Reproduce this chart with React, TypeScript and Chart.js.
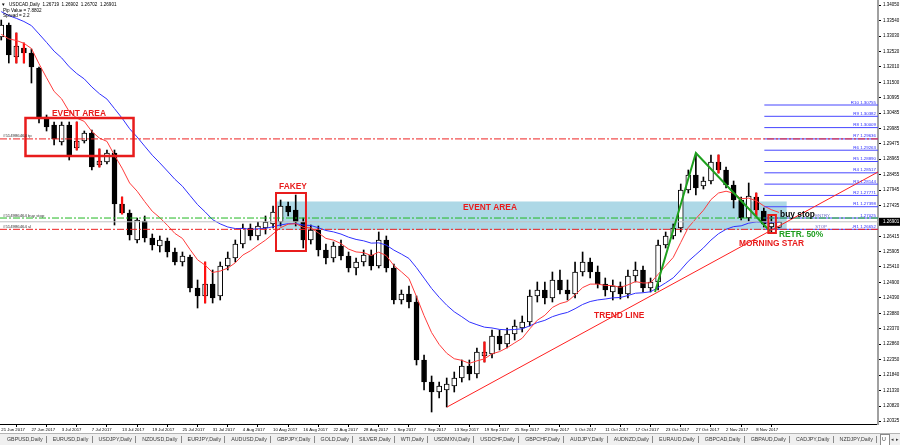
import React, { useEffect, useRef } from "react";
import { Chart, registerables } from "chart.js";
Chart.register(...registerables);

const FONT = "'Liberation Sans', Arial, sans-serif";

// ---------- data ----------
const symbolTitle = "USDCAD,Daily";
const infoLines = ["Pip Value = 7.8802", "Spread = 2.2"];

const dateLabels = [
  "21 Jun 2017", "27 Jun 2017", "3 Jul 2017", "7 Jul 2017", "13 Jul 2017", "19 Jul 2017",
  "25 Jul 2017", "31 Jul 2017", "4 Aug 2017", "10 Aug 2017", "16 Aug 2017", "22 Aug 2017",
  "28 Aug 2017", "1 Sep 2017", "7 Sep 2017", "13 Sep 2017", "19 Sep 2017", "25 Sep 2017",
  "29 Sep 2017", "5 Oct 2017", "11 Oct 2017", "17 Oct 2017", "23 Oct 2017", "27 Oct 2017",
  "2 Nov 2017", "8 Nov 2017",
];
const dateBars = [0, 4, 8, 12, 16, 20, 24, 28, 32, 36, 40, 44, 48, 52, 56, 60, 64, 68, 72, 76, 80, 84, 88, 92, 96, 100];

const priceTicks = [
  1.3405, 1.3354, 1.3303, 1.3252, 1.3201, 1.315, 1.30995, 1.30485, 1.29985, 1.29475,
  1.28965, 1.28455, 1.27945, 1.27435, 1.26415, 1.25905, 1.2541, 1.249, 1.2439, 1.2388,
  1.2337, 1.2286, 1.2235, 1.2184, 1.2133, 1.2082, 1.20325,
];

const openP = [
  1.32999, 1.33395, 1.32339, 1.32636, 1.32471, 1.31976, 1.30359, 1.30095, 1.29534, 1.30095,
  1.29336, 1.29567, 1.29831, 1.28775, 1.28874, 1.29171, 1.27488, 1.27191, 1.263, 1.26927,
  1.26366, 1.26102, 1.26267, 1.25904, 1.25574, 1.25739, 1.24716, 1.24452, 1.24848, 1.24452,
  1.25442, 1.25706, 1.26168, 1.26696, 1.26432, 1.26696, 1.26828, 1.26894, 1.27422, 1.2729,
  1.26894, 1.263, 1.2663, 1.2597, 1.25706, 1.26102, 1.25772, 1.25376, 1.25574, 1.25805,
  1.25442, 1.263, 1.25376, 1.2432, 1.24518, 1.24254, 1.2234, 1.21614, 1.21284, 1.2135,
  1.21482, 1.21746, 1.22142, 1.21878, 1.22472, 1.22538, 1.23132, 1.22868, 1.23198, 1.23396,
  1.23594, 1.24452, 1.2465, 1.24386, 1.2498, 1.2465, 1.24518, 1.25244, 1.25574, 1.25244,
  1.24848, 1.24584, 1.24782, 1.24518, 1.25112, 1.2531, 1.24716, 1.24914, 1.26135, 1.26432,
  1.26696, 1.2795, 1.28445, 1.28082, 1.28247, 1.28874, 1.2861, 1.28115, 1.2762, 1.27026,
  1.27719, 1.27257, 1.26729, 1.26719,
];
const highP = [
  1.3356, 1.33461, 1.33131, 1.32801, 1.32603, 1.32009, 1.30425, 1.30194, 1.30194, 1.30194,
  1.30194, 1.29897, 1.2993, 1.29303, 1.2927, 1.2927, 1.27719, 1.2729, 1.27026, 1.27092,
  1.26498, 1.26432, 1.26366, 1.26036, 1.25904, 1.25805, 1.2498, 1.25574, 1.2531, 1.25574,
  1.25904, 1.263, 1.26828, 1.26828, 1.26894, 1.27092, 1.27422, 1.2762, 1.27554, 1.27785,
  1.27026, 1.26795, 1.26762, 1.26168, 1.26234, 1.263, 1.25904, 1.25706, 1.2597, 1.2597,
  1.26564, 1.26432, 1.25508, 1.2465, 1.24782, 1.24452, 1.22505, 1.21812, 1.21614, 1.21746,
  1.21944, 1.2234, 1.2234, 1.22736, 1.22934, 1.2333, 1.2333, 1.23396, 1.2366, 1.23792,
  1.2465, 1.24914, 1.24914, 1.25244, 1.2531, 1.2498, 1.25574, 1.25904, 1.25706, 1.25442,
  1.25046, 1.2498, 1.24914, 1.2531, 1.25574, 1.25442, 1.25046, 1.263, 1.26564, 1.26828,
  1.28148, 1.2861, 1.29171, 1.28379, 1.29105, 1.29105, 1.28709, 1.28247, 1.27719, 1.28181,
  1.27851, 1.27356, 1.27125, 1.26902,
];
const lowP = [
  1.329, 1.32141, 1.32141, 1.32141, 1.31481, 1.30161, 1.29897, 1.29435, 1.29435, 1.2894,
  1.2927, 1.29501, 1.2861, 1.28709, 1.28808, 1.26795, 1.27158, 1.263, 1.26201, 1.26234,
  1.2597, 1.25904, 1.25739, 1.25475, 1.25442, 1.24584, 1.24056, 1.24221, 1.24221, 1.2432,
  1.2531, 1.25574, 1.26036, 1.263, 1.263, 1.26498, 1.26696, 1.26762, 1.27092, 1.26762,
  1.26036, 1.26168, 1.25772, 1.25508, 1.25574, 1.2564, 1.25244, 1.25145, 1.25442, 1.2531,
  1.25376, 1.25244, 1.24188, 1.24188, 1.24056, 1.22175, 1.2135, 1.20624, 1.21086, 1.20789,
  1.21284, 1.21614, 1.2168, 1.21746, 1.22274, 1.22406, 1.2267, 1.22736, 1.23, 1.23264,
  1.23462, 1.24254, 1.24188, 1.24254, 1.24518, 1.2432, 1.24386, 1.25112, 1.25046, 1.24716,
  1.24452, 1.2432, 1.24353, 1.24386, 1.24914, 1.24584, 1.24584, 1.2465, 1.26036, 1.26333,
  1.26564, 1.27851, 1.27785, 1.27983, 1.28148, 1.28511, 1.28016, 1.27356, 1.2696, 1.26927,
  1.27092, 1.26729, 1.26564, 1.26702,
];
const closeP = [
  1.33395, 1.32405, 1.32702, 1.32471, 1.32009, 1.30359, 1.30029, 1.29633, 1.30095, 1.29072,
  1.29567, 1.29831, 1.28709, 1.28907, 1.29171, 1.27488, 1.27191, 1.26465, 1.2696, 1.26366,
  1.26135, 1.263, 1.25904, 1.25574, 1.25772, 1.24716, 1.24452, 1.24848, 1.24386, 1.25442,
  1.25706, 1.26168, 1.26696, 1.26432, 1.26762, 1.26894, 1.27224, 1.27422, 1.27224, 1.26894,
  1.263, 1.2663, 1.2597, 1.25706, 1.26102, 1.25772, 1.25376, 1.25574, 1.25805, 1.25442,
  1.263, 1.25376, 1.2432, 1.24518, 1.24254, 1.2234, 1.21614, 1.21284, 1.21482, 1.21548,
  1.21746, 1.22142, 1.21878, 1.22604, 1.22604, 1.23132, 1.22868, 1.23198, 1.23462, 1.23594,
  1.24452, 1.2465, 1.24386, 1.2498, 1.2465, 1.24518, 1.25244, 1.25574, 1.25244, 1.24848,
  1.2465, 1.24782, 1.24518, 1.25112, 1.2531, 1.24716, 1.24914, 1.26135, 1.26432, 1.26696,
  1.2795, 1.28445, 1.28016, 1.28247, 1.28874, 1.2861, 1.28115, 1.2762, 1.27026, 1.27752,
  1.2729, 1.26828, 1.26861, 1.26901,
];
const redWickBars = [2, 3, 10, 13, 16, 27, 64, 95, 100];

// moving averages (periods and their starting values read at the left edge)
const fastPeriod = 8;
const fastSeed = 1.33;
const slowPeriod = 21;
const slowSeed = 1.3388;

// order lines
const orderLabels = ["#514986464 tp", "#514986464 buy stop", "#514986464 sl"];
const orderLevels = [1.29636, 1.27025, 1.26652];

// fibonacci expansion levels
const fibNames = [
  "R10 1.30755", "R9 1.30382", "R8 1.30009", "R7 1.29636", "R6 1.29263", "R5 1.28890",
  "R4 1.28517", "R3 1.28144", "R2 1.27771", "R1 1.27398", "1.27025", "-R1 1.26652",
];
const fibLevels = [1.30755, 1.30382, 1.30009, 1.29636, 1.29263, 1.2889, 1.28517, 1.28144, 1.27771, 1.27398, 1.27025, 1.26652];
const fibStartBar = 101.07;
const fibTags = ["ENTRY", "STOP"];
const fibTagLevels = [1.27025, 1.26652];
const fibTagBar = 107.8;

// drawn objects
const zoneBars = [36.26, 104.03];
const zonePrices = [1.27571, 1.2663];
const boxBars = [[3.21, 17.52], [36.39, 40.36], [101.6, 102.6]];
const boxPrices = [[1.30326, 1.29072], [1.27851, 1.25937], [1.27125, 1.26531]];
const trendBars = [59.05, 116.12];
const trendPrices = [1.20789, 1.28544];
const zigzagBars = [86.59, 92.0, 101.8];
const zigzagPrices = [1.24584, 1.29171, 1.26597];

const noteTexts = ["EVENT AREA", "FAKEY", "EVENT AREA", "buy stop", "RETR. 50%", "MORNING STAR", "TREND LINE"];
const noteBars = [6.72, 36.79, 61.16, 103.15, 103.01, 97.72, 78.51];
const notePrices = [1.30475, 1.28049, 1.27356, 1.27125, 1.26482, 1.26185, 1.23792];

const tabNames = [
  "GBPUSD,Daily", "EURUSD,Daily", "USDJPY,Daily", "NZDUSD,Daily", "EURJPY,Daily", "AUDUSD,Daily",
  "GBPJPY,Daily", "GOLD,Daily", "SILVER,Daily", "WTI,Daily", "USDMXN,Daily", "USDCHF,Daily",
  "GBPCHF,Daily", "AUDJPY,Daily", "AUDNZD,Daily", "EURAUD,Daily", "GBPCAD,Daily", "GBPAUD,Daily",
  "CADJPY,Daily", "NZDJPY,Daily",
];

// ---------- view ----------
const XMIN = -0.166;
const XMAX = 116.124;
const YMIN = 1.20228;
const YMAX = 1.3422;

const noteColors = ["#e81c1c", "#e81c1c", "#e81c1c", "#000000", "#1f9e1f", "#e81c1c", "#e81c1c"];

function ema(values: number[], period: number, seed: number) {
  const k = 2 / (period + 1);
  let prev = seed;
  return values.map((v) => (prev = prev + k * (v - prev)));
}

const overlay = {
  id: "mt4Overlay",
  beforeDatasetsDraw(chart: any) {
    const { ctx, chartArea: a, scales } = chart;
    const xs = scales.x, ys = scales.y;
    ctx.save();
    ctx.beginPath();
    ctx.rect(a.left, a.top, a.right - a.left, a.bottom - a.top);
    ctx.clip();
    const x0 = xs.getPixelForValue(zoneBars[0]);
    const x1 = xs.getPixelForValue(zoneBars[1]);
    const y0 = ys.getPixelForValue(zonePrices[0]);
    const y1 = ys.getPixelForValue(zonePrices[1]);
    ctx.fillStyle = "#add8e6";
    ctx.fillRect(x0, y0, x1 - x0, y1 - y0);
    ctx.restore();
  },
  afterDatasetsDraw(chart: any) {
    const { ctx, chartArea: a, scales } = chart;
    const xs = scales.x, ys = scales.y;
    ctx.save();
    ctx.beginPath();
    ctx.rect(a.left, a.top, a.right - a.left, a.bottom - a.top);
    ctx.clip();

    // red boxes
    ctx.strokeStyle = "#e81c1c";
    boxBars.forEach((b, i) => {
      const x0 = xs.getPixelForValue(b[0]);
      const x1 = xs.getPixelForValue(b[1]);
      const y0 = ys.getPixelForValue(boxPrices[i][0]);
      const y1 = ys.getPixelForValue(boxPrices[i][1]);
      ctx.lineWidth = i === 0 ? 2.5 : 2;
      ctx.strokeRect(x0, y0, x1 - x0, y1 - y0);
    });

    // order line labels
    ctx.font = `4.3px ${FONT}`;
    ctx.fillStyle = "#333";
    ctx.textBaseline = "bottom";
    ctx.textAlign = "left";
    orderLabels.forEach((t, i) => {
      ctx.fillText(t, a.left + 3, ys.getPixelForValue(orderLevels[i]) - 0.5);
    });

    // fib labels
    ctx.font = `4.4px ${FONT}`;
    ctx.fillStyle = "#2b2bff";
    ctx.textAlign = "right";
    fibNames.forEach((t, i) => {
      ctx.fillText(t, a.right - 2, ys.getPixelForValue(fibLevels[i]) - 0.5);
    });
    ctx.fillStyle = "#6a6ac8";
    ctx.textAlign = "left";
    fibTags.forEach((t, i) => {
      ctx.fillText(t, xs.getPixelForValue(fibTagBar), ys.getPixelForValue(fibTagLevels[i]) - 0.5);
    });

    // annotation texts
    ctx.font = `bold 8.4px ${FONT}`;
    ctx.textBaseline = "middle";
    ctx.textAlign = "left";
    noteTexts.forEach((t, i) => {
      ctx.fillStyle = noteColors[i];
      ctx.fillText(t, xs.getPixelForValue(noteBars[i]), ys.getPixelForValue(notePrices[i]));
    });

    // info text top-left
    const last = closeP.length - 1;
    ctx.fillStyle = "#000";
    ctx.font = `4.6px ${FONT}`;
    ctx.textBaseline = "middle";
    ctx.fillText("\u25BC", a.left + 1, 5);
    const ohlc = [openP[last], highP[last], lowP[last], closeP[last]].map((v) => v.toFixed(5)).join("  ");
    ctx.fillText(`${symbolTitle}  ${ohlc}`, a.left + 9, 5);
    infoLines.forEach((t, i) => ctx.fillText(t, a.left + 3, 11 + i * 5));
    ctx.restore();
  },
  afterDraw(chart: any) {
    const { ctx, chartArea: a, scales, width, height } = chart;
    const ys = scales.y;
    ctx.save();
    // current price box on the price axis
    const last = closeP[closeP.length - 1];
    const py = ys.getPixelForValue(last);
    ctx.fillStyle = "#000";
    ctx.fillRect(a.right + 1, py - 4, width - a.right - 1, 8);
    ctx.fillStyle = "#fff";
    ctx.font = `4.5px ${FONT}`;
    ctx.textBaseline = "middle";
    ctx.textAlign = "left";
    ctx.fillText(last.toFixed(5), a.right + 5, py);

    // tab bar
    const top = height - 12;
    ctx.fillStyle = "#f0f0f0";
    ctx.fillRect(0, top, width, 12);
    ctx.strokeStyle = "#b4b4b4";
    ctx.lineWidth = 1;
    ctx.beginPath();
    ctx.moveTo(0, top + 0.5);
    ctx.lineTo(width, top + 0.5);
    ctx.stroke();
    ctx.font = `5.3px ${FONT}`;
    let tx = 7;
    tabNames.forEach((n) => {
      ctx.fillStyle = "#3a3a3a";
      ctx.fillText(n, tx, top + 6.5);
      tx += ctx.measureText(n).width + 3.3;
      ctx.strokeStyle = "#8a8a8a";
      ctx.beginPath();
      ctx.moveTo(Math.round(tx) + 0.5, top + 3);
      ctx.lineTo(Math.round(tx) + 0.5, top + 10);
      ctx.stroke();
      tx += 6.85;
    });
    // partially visible active tab and scroll arrows
    const ux = width - 20;
    ctx.fillStyle = "#fff";
    ctx.fillRect(ux, top + 1, 9, 11);
    ctx.strokeStyle = "#8a8a8a";
    ctx.strokeRect(ux + 0.5, top + 1.5, 9, 11);
    ctx.fillStyle = "#3a3a3a";
    ctx.fillText("U", ux + 2, top + 6.5);
    ctx.font = `4.5px ${FONT}`;
    ctx.fillText("\u25C2", width - 9, top + 6.5);
    ctx.fillText("\u25B8", width - 4.5, top + 6.5);
    ctx.restore();
  },
};

export default function App() {
  const ref = useRef<HTMLCanvasElement>(null);
  useEffect(() => {
    const bars = openP.map((_, i) => i);
    const isUp = (i: number) => closeP[i] >= openP[i];
    const fast = ema(closeP, fastPeriod, fastSeed);
    const slow = ema(closeP, slowPeriod, slowSeed);
    const fibData: any[] = [];
    fibLevels.forEach((lv) => {
      fibData.push({ x: fibStartBar, y: lv }, { x: XMAX, y: lv }, { x: XMAX, y: null });
    });
    const hLine = (lv: number) => [{ x: XMIN, y: lv }, { x: XMAX, y: lv }];

    const chart = new Chart(ref.current as HTMLCanvasElement, {
      type: "bar",
      data: {
        datasets: [
          {
            type: "bar",
            data: bars.map((i) => ({ x: i, y: [lowP[i], highP[i]] })),
            backgroundColor: "#000",
            barThickness: 1,
            grouped: false,
            order: 30,
          } as any,
          {
            type: "bar",
            data: bars.map((i) => ({ x: i, y: [Math.min(openP[i], closeP[i]), Math.max(openP[i], closeP[i])] })),
            backgroundColor: (c: any) => (isUp(c.dataIndex) ? "#ffffff" : "#000000"),
            borderColor: "#000",
            borderWidth: 1,
            borderSkipped: false,
            barThickness: 5,
            grouped: false,
            order: 29,
          } as any,
          {
            type: "bar",
            data: redWickBars.map((i) => ({ x: i, y: [lowP[i], highP[i]] })),
            backgroundColor: "#ff1010",
            barThickness: 1.6,
            grouped: false,
            order: 28,
          } as any,
          {
            type: "line",
            data: fast.map((v, i) => ({ x: i, y: v })),
            borderColor: "#ff3b3b",
            borderWidth: 1,
            pointRadius: 0,
            order: 20,
          } as any,
          {
            type: "line",
            data: slow.map((v, i) => ({ x: i, y: v })),
            borderColor: "#3030ff",
            borderWidth: 1,
            pointRadius: 0,
            order: 20,
          } as any,
          {
            type: "line",
            data: fibData,
            borderColor: "#4646ff",
            borderWidth: 1,
            pointRadius: 0,
            spanGaps: false,
            order: 15,
          } as any,
          {
            type: "line",
            data: hLine(closeP[closeP.length - 1]),
            borderColor: "#c0c0c0",
            borderWidth: 1,
            pointRadius: 0,
            order: 14,
          } as any,
          {
            type: "line",
            data: hLine(orderLevels[0]),
            borderColor: "#ee2222",
            borderWidth: 1,
            borderDash: [7, 2, 2, 2],
            pointRadius: 0,
            order: 12,
          } as any,
          {
            type: "line",
            data: hLine(orderLevels[1]),
            borderColor: "#22b822",
            borderWidth: 1,
            borderDash: [7, 2, 2, 2],
            pointRadius: 0,
            order: 12,
          } as any,
          {
            type: "line",
            data: hLine(orderLevels[2]),
            borderColor: "#ee2222",
            borderWidth: 1,
            borderDash: [7, 2, 2, 2],
            pointRadius: 0,
            order: 12,
          } as any,
          {
            type: "line",
            data: trendBars.map((b, i) => ({ x: b, y: trendPrices[i] })),
            borderColor: "#ff2020",
            borderWidth: 1,
            pointRadius: 0,
            order: 11,
          } as any,
          {
            type: "line",
            data: zigzagBars.map((b, i) => ({ x: b, y: zigzagPrices[i] })),
            borderColor: "#1ea01e",
            borderWidth: 2,
            pointRadius: 0,
            order: 10,
          } as any,
        ],
      },
      options: {
        animation: false,
        responsive: false,
        events: [],
        layout: { padding: { top: 0, left: 0, right: 0, bottom: 12 } },
        plugins: { legend: { display: false }, tooltip: { enabled: false } },
        scales: {
          x: {
            type: "linear",
            min: XMIN,
            max: XMAX,
            offset: false,
            position: "bottom",
            grid: { drawOnChartArea: false, drawTicks: true, tickLength: 3, color: "#000" },
            border: { display: true, color: "#000", width: 1 },
            ticks: {
              autoSkip: false,
              maxRotation: 0,
              minRotation: 0,
              align: "start",
              padding: 0,
              color: "#000",
              font: { family: FONT, size: 4.3 },
              callback: (_v: any, idx: number) => dateLabels[idx],
            },
            afterBuildTicks: (ax: any) => {
              ax.ticks = dateBars.map((v) => ({ value: v }));
            },
            afterFit: (ax: any) => {
              ax.height = 9;
              ax.paddingLeft = 0;
              ax.paddingRight = 0;
            },
          },
          y: {
            type: "linear",
            position: "right",
            min: YMIN,
            max: YMAX,
            grid: { drawOnChartArea: false, drawTicks: true, tickLength: 3, color: "#000" },
            border: { display: true, color: "#a0a0a0", width: 2 },
            ticks: {
              autoSkip: false,
              padding: 2,
              color: "#000",
              font: { family: FONT, size: 4.5 },
              callback: (v: any) => Number(v).toFixed(5),
            },
            afterBuildTicks: (ax: any) => {
              ax.ticks = priceTicks.map((v) => ({ value: v }));
            },
            afterFit: (ax: any) => {
              ax.width = 22;
              ax.paddingTop = 0;
              ax.paddingBottom = 0;
            },
          },
        },
      } as any,
      plugins: [overlay],
    });
    return () => chart.destroy();
  }, []);

  return (
    <div style={{ position: "absolute", left: 0, top: 0, width: 900, height: 445, background: "#fff", overflow: "hidden" }}>
      <canvas ref={ref} width={900} height={445} style={{ display: "block", width: 900, height: 445 }} />
    </div>
  );
}
